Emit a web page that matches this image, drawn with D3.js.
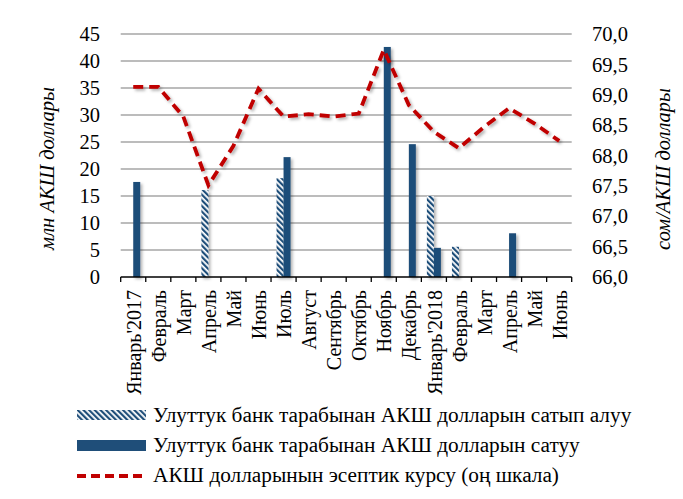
<!DOCTYPE html>
<html><head><meta charset="utf-8">
<script src="https://cdn.jsdelivr.net/npm/d3@7/dist/d3.min.js"></script>
<style>
html,body{margin:0;padding:0;background:#fff;}
</style></head>
<body><svg id="c" width="683" height="499"></svg>
<script>
const categories = ["Январь'2017","Февраль","Март","Апрель","Май","Июнь","Июль","Август","Сентябрь","Октябрь","Ноябрь","Декабрь","Январь'2018","Февраль","Март","Апрель","Май","Июнь"];
const purchases = [null,null,null,16.1,null,null,18.3,null,null,null,null,null,15.0,5.6,null,null,null,null];
const sales     = [17.6,null,null,null,null,null,22.2,null,null,null,42.6,24.6,5.4,null,null,8.1,null,null];
const rate      = [69.13,69.13,68.64,67.51,68.16,69.1,68.64,68.68,68.64,68.69,69.74,68.83,68.39,68.12,68.47,68.78,68.53,68.24];
const leftTicks = [0,5,10,15,20,25,30,35,40,45];
const rightTicks = [66,66.5,67,67.5,68,68.5,69,69.5,70];
const seriesNames = ["Улуттук банк тарабынан АКШ долларын сатып алуу","Улуттук банк тарабынан АКШ долларын сатуу","АКШ долларынын эсептик курсу (оң шкала)"];
const leftTitle = "млн АКШ доллары";
const rightTitle = "сом/АКШ доллары";

const FONT = "'Liberation Serif', 'Times New Roman', serif";
const blue = "#1f4e79", red = "#c00000", grid = "#a6a6a6";
const svg = d3.select("#c").attr("font-family", FONT);
const L = 120.7, R = 571.7, T = 34, B = 277;

const defs = svg.append("defs");
const pat = defs.append("pattern").attr("id","hatch").attr("patternUnits","userSpaceOnUse")
  .attr("width",4).attr("height",4).attr("patternTransform","rotate(-45)");
pat.append("rect").attr("width",4).attr("height",4).attr("fill","#fff");
pat.append("rect").attr("width",2.2).attr("height",4).attr("fill",blue);
const f = defs.append("filter").attr("id","sh").attr("x","-50%").attr("y","-20%").attr("width","200%").attr("height","140%");
f.append("feDropShadow").attr("dx",2).attr("dy",2).attr("stdDeviation",1.5).attr("flood-color","#000").attr("flood-opacity",0.3);

const x = d3.scaleBand().domain(d3.range(categories.length)).range([L,R]).paddingInner(0).paddingOuter(0);
const y = d3.scaleLinear().domain([0,45]).range([B,T]);
const y2 = d3.scaleLinear().domain([66,70]).range([B,T]);
const bw = 7;

svg.append("g").selectAll("line").data(leftTicks.filter(d=>d>0)).join("line")
  .attr("x1",L).attr("x2",R).attr("y1",d=>y(d)).attr("y2",d=>y(d))
  .attr("stroke",grid).attr("stroke-width",1.3);

svg.append("g").selectAll("text").data(leftTicks).join("text")
  .attr("x",100).attr("y",d=>y(d)).attr("dy","0.35em").attr("text-anchor","end")
  .attr("font-size",20.5).text(d=>d);
svg.append("g").selectAll("text").data(rightTicks).join("text")
  .attr("x",592).attr("y",d=>y2(d)).attr("dy","0.35em").attr("text-anchor","start")
  .attr("font-size",20.5).text(d=>d.toFixed(1).replace(".",","));

const cx = i => x(i) + x.bandwidth()/2;
svg.append("g").attr("filter","url(#sh)").selectAll("rect").data(purchases.map((v,i)=>({v,i})).filter(d=>d.v!=null)).join("rect")
  .attr("x",d=>cx(d.i)-bw).attr("width",bw).attr("y",d=>y(d.v)).attr("height",d=>B-y(d.v)).attr("fill","url(#hatch)");
svg.append("g").attr("filter","url(#sh)").selectAll("rect").data(sales.map((v,i)=>({v,i})).filter(d=>d.v!=null)).join("rect")
  .attr("x",d=>cx(d.i)).attr("width",bw).attr("y",d=>y(d.v)).attr("height",d=>B-y(d.v)).attr("fill",blue);

const ax = svg.append("g");
ax.append("line").attr("x1",L).attr("x2",R).attr("y1",B).attr("y2",B).attr("stroke","#000").attr("stroke-width",1.3);
ax.selectAll("line.t").data(d3.range(categories.length+1)).join("line").attr("class","t")
  .attr("x1",i=>L+i*x.bandwidth()).attr("x2",i=>L+i*x.bandwidth()).attr("y1",B).attr("y2",B+5)
  .attr("stroke","#000").attr("stroke-width",1.3);
ax.selectAll("text").data(categories).join("text")
  .attr("transform",(d,i)=>`translate(${cx(i)},290) rotate(-90)`)
  .attr("dy","0.38em").attr("text-anchor","end").attr("font-size",20).text(d=>d);

const line = d3.line().x((d,i)=>cx(i)).y(d=>y2(d)).curve(d3.curveLinear);
svg.append("path").datum(rate).attr("d",line).attr("fill","none").attr("stroke",red)
  .attr("stroke-width",3.8).attr("stroke-dasharray","10,6").attr("filter","url(#sh)");

function fitTitle(txt, cxp, cyp, len){
  const t = svg.append("text").attr("transform",`translate(${cxp},${cyp}) rotate(-90)`).attr("dy","0.35em")
    .attr("text-anchor","middle").attr("font-size",20).attr("font-style","italic").text(txt);
  const w = t.node().getComputedTextLength();
  if (w > 0) t.attr("font-size", 20*len/w);
}
fitTitle(leftTitle, 47, 168.5, 163);
fitTitle(rightTitle, 663, 169, 162);

const lg = svg.append("g");
const ly = [415, 445, 475];
lg.append("rect").attr("x",77).attr("y",ly[0]-5).attr("width",69).attr("height",10).attr("fill","url(#hatch)");
lg.append("rect").attr("x",77).attr("y",ly[1]-5).attr("width",69).attr("height",11).attr("fill",blue);
lg.append("line").attr("x1",77).attr("x2",146).attr("y1",ly[2]+1).attr("y2",ly[2]+1).attr("stroke",red)
  .attr("stroke-width",3.8).attr("stroke-dasharray","9,5");
lg.selectAll("text").data(seriesNames).join("text").attr("x",153).attr("y",(d,i)=>ly[i])
  .attr("dy","0.35em").attr("font-size",21.3).text(d=>d);
</script></body></html>
